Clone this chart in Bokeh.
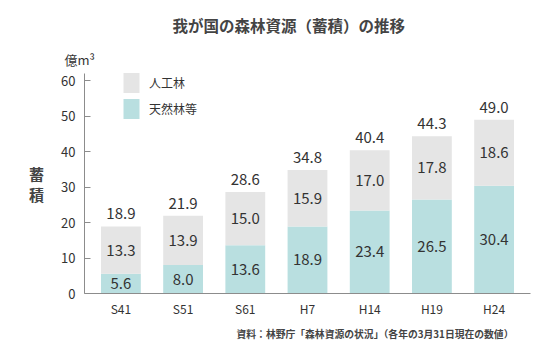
from bokeh.plotting import figure
from bokeh.models import (ColumnDataSource, FactorRange, Range1d, Legend,
                          LegendItem, FixedTicker, LabelSet, Title)
from bokeh.core.properties import value
from bokeh.embed import file_html
from bokeh.resources import INLINE

years = ["S41", "S51", "S61", "H7", "H14", "H19", "H24"]
natural = [5.6, 8.0, 13.6, 18.9, 23.4, 26.5, 30.4]      # 天然林等
planted = [13.3, 13.9, 15.0, 15.9, 17.0, 17.8, 18.6]    # 人工林
totals = [18.9, 21.9, 28.6, 34.8, 40.4, 44.3, 49.0]
y_ticks = [0, 10, 20, 30, 40, 50, 60]

FONT = "Noto Sans CJK JP"
TXT = "#333333"
HEAD = "#444444"
GRAY = "#e5e5e5"
TEAL = "#b9dfe0"

src = ColumnDataSource(dict(
    x=years,
    natural=natural,
    planted=planted,
    total=totals,
    nat_mid=[n / 2 for n in natural],
    pl_mid=[n + p / 2 for n, p in zip(natural, planted)],
    nat_txt=[f"{v:.1f}" for v in natural],
    pl_txt=[f"{v:.1f}" for v in planted],
    tot_txt=[f"{v:.1f}" for v in totals],
))

p = figure(width=552, height=352, output_backend="svg", toolbar_location=None,
           x_range=FactorRange(factors=years, range_padding=0.085,
                               range_padding_units="absolute"),
           y_range=Range1d(0, 62),
           min_border_left=84, min_border_right=22,
           min_border_top=73, min_border_bottom=59)
p.outline_line_color = None
p.xgrid.visible = False
p.ygrid.visible = False
p.background_fill_color = "white"
p.border_fill_color = "white"

r = p.vbar_stack(["natural", "planted"], x="x", width=0.64, source=src,
                 color=[TEAL, GRAY], line_color=None)

# segment labels
for col_y, col_t in (("nat_mid", "nat_txt"), ("pl_mid", "pl_txt")):
    p.add_layout(LabelSet(x="x", y=col_y, text=col_t, source=src,
                          text_align="center", text_baseline="middle",
                          text_font=value(FONT), text_font_size="15px",
                          text_color=TXT))
p.add_layout(LabelSet(x="x", y="total", text="tot_txt", source=src,
                      text_align="center", text_baseline="alphabetic",
                      y_offset=7,
                      text_font=value(FONT), text_font_size="15px",
                      text_color=TXT))

# axes
for ax in (p.xaxis[0], p.yaxis[0]):
    ax.axis_line_color = "#8c8c8c"
    ax.major_label_text_font = FONT
    ax.major_label_text_color = TXT
    ax.minor_tick_line_color = None
p.yaxis.ticker = FixedTicker(ticks=y_ticks)
p.yaxis.major_tick_in = 6
p.yaxis.major_tick_out = 0
p.yaxis.major_tick_line_color = "#8c8c8c"
p.yaxis.major_label_text_font_size = "13px"
p.yaxis.major_label_standoff = 9
p.yaxis.axis_label = "蓄\n積"
p.yaxis.axis_label_orientation = "horizontal"
p.yaxis.axis_label_text_font = FONT
p.yaxis.axis_label_text_font_size = "15px"
p.yaxis.axis_label_text_font_style = "bold"
p.yaxis.axis_label_text_color = HEAD
p.yaxis.axis_label_text_baseline = "alphabetic"
p.yaxis.axis_label_text_line_height = 1.0
p.yaxis.axis_label_standoff = 14
p.xaxis.major_tick_line_color = None
p.xaxis.major_tick_in = 0
p.xaxis.major_tick_out = 0
p.xaxis.major_label_text_font_size = "12px"
p.xaxis.major_label_standoff = 6

# legend
legend = Legend(items=[LegendItem(label="人工林", renderers=[r[1]]),
                       LegendItem(label="天然林等", renderers=[r[0]])],
                location=(37, 172), orientation="vertical",
                glyph_width=20, glyph_height=25, spacing=1,
                label_standoff=8, padding=0, margin=0,
                border_line_color=None, background_fill_alpha=0,
                label_text_font=FONT, label_text_font_size="12px",
                label_text_color=TXT)
p.add_layout(legend)

# unit label and title above the frame
p.add_layout(Title(text="億m³", align="left", offset=-20, standoff=9,
                   text_font=FONT, text_font_size="13px",
                   text_font_style="normal", text_color=TXT), "above")
p.add_layout(Title(text="我が国の森林資源（蓄積）の推移", align="left",
                   offset=88, standoff=15,
                   text_font=FONT, text_font_size="15.5px",
                   text_font_style="bold", text_color=HEAD), "above")
# source note below
p.add_layout(Title(text="資料：林野庁「森林資源の状況」（各年の3月31日現在の数値）",
                   align="left", offset=152, standoff=10,
                   text_font=FONT, text_font_size="9.8px",
                   text_font_style="bold", text_color=HEAD), "below")

open("out.html", "w").write(file_html(p, INLINE))
